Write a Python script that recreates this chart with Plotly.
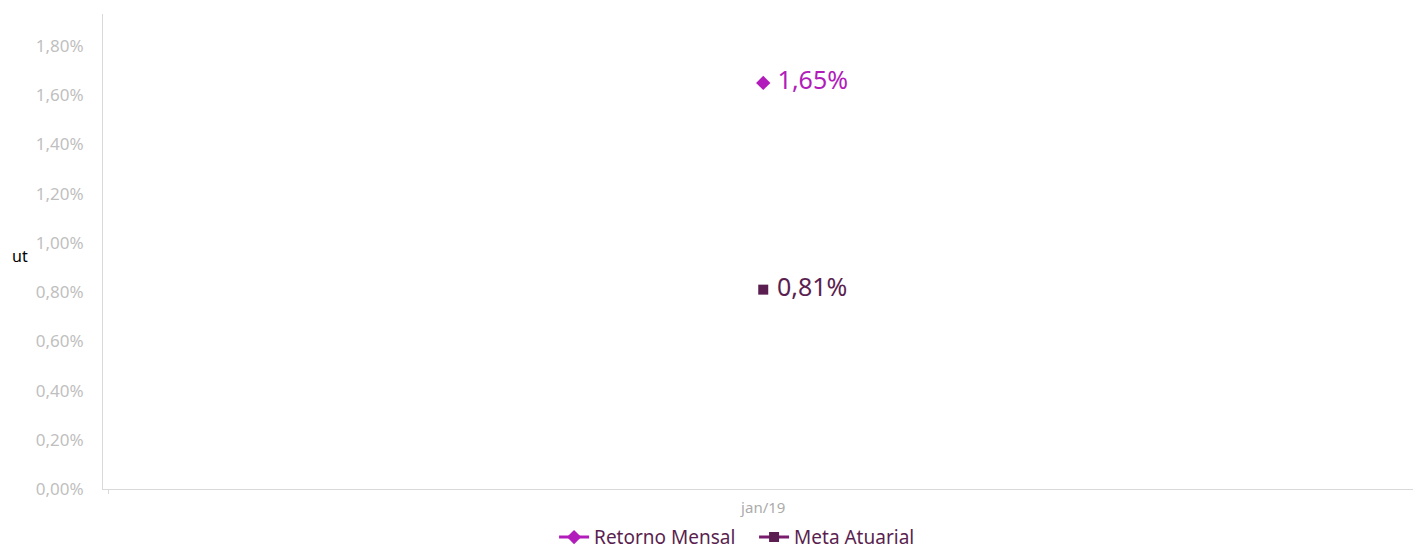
import plotly.graph_objects as go

categories = ["jan/19"]
retorno_mensal = [0.0165]
meta_atuarial = [0.0081]
retorno_labels = ["1,65%"]
meta_labels = ["0,81%"]

FONT = "Noto Sans"

fig = go.Figure()
fig.add_trace(go.Scatter(
    x=categories, y=retorno_mensal, name="Retorno Mensal",
    mode="lines+markers+text", text=retorno_labels, texttemplate=" %{text}",
    textposition="middle right",
    textfont=dict(color="#B11CBB", size=25, family=FONT),
    line=dict(color="#B11CBB", width=3),
    marker=dict(symbol="diamond", size=11, color="#B11CBB"),
))
fig.add_trace(go.Scatter(
    x=categories, y=meta_atuarial, name="Meta Atuarial",
    mode="lines+markers+text", text=meta_labels, texttemplate=" %{text}",
    textposition="middle right",
    textfont=dict(color="#5A1F50", size=25, family=FONT),
    line=dict(color="#7A1C6E", width=3),
    marker=dict(symbol="square", size=10, color="#5A1F50"),
))

fig.update_layout(
    width=1416, height=551,
    margin=dict(l=103, r=3, t=14, b=62, autoexpand=False),
    paper_bgcolor="white", plot_bgcolor="white",
    separators=",.",
    font=dict(family=FONT),
    showlegend=True,
    legend=dict(orientation="h", x=0.497, xanchor="center", yref="container",
                y=0.025, yanchor="middle",
                font=dict(size=19, color="#5A1F50", family=FONT),
                itemwidth=30, entrywidth=155, tracegroupgap=0),
    xaxis=dict(type="category", range=[-0.504, 0.496], automargin=False,
               showgrid=False, showline=True, linecolor="#D9D9D9",
               linewidth=1, ticks="outside", tickson="boundaries", ticklen=4,
               tickcolor="#D9D9D9", ticklabelstandoff=5,
               tickfont=dict(size=15, color="#ABABAB", family=FONT),
               zeroline=False),
    yaxis=dict(range=[0, 0.0193], tickvals=[i * 0.002 for i in range(10)],
               automargin=False,
               tickformat=".2%", showgrid=False, showline=True, linecolor="#D9D9D9",
               linewidth=1, ticks="", ticklabelstandoff=15,
               tickfont=dict(size=17, color="#BFBFBF", family=FONT),
               zeroline=False),
    annotations=[dict(text="ut", x=-0.071, xref="paper", y=0.49, yref="paper",
                      xanchor="left", showarrow=False,
                      font=dict(size=16, color="#000000", family=FONT))],
)

fig.write_html("out.html", config={"displayModeBar": False},
               post_script="document.body.style.margin='0';document.body.style.padding='0';")
